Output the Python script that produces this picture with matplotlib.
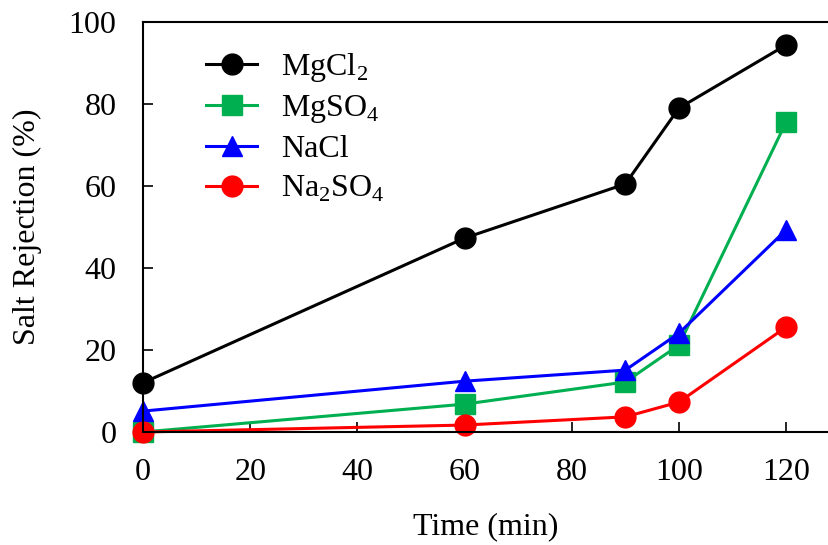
import matplotlib
matplotlib.use("Agg")
import matplotlib.pyplot as plt

# data
time_min = [0, 60, 90, 100, 120]
mgcl2 = [12.0, 47.3, 60.5, 79.0, 94.4]
mgso4 = [0.0, 6.8, 12.2, 21.2, 75.6]
nacl = [5.1, 12.4, 15.1, 24.1, 49.3]
na2so4 = [0.0, 1.7, 3.7, 7.3, 25.6]

plt.rcParams['font.family'] = ['Liberation Serif', 'DejaVu Serif']
plt.rcParams['mathtext.fontset'] = 'custom'
plt.rcParams['mathtext.rm'] = 'Liberation Serif'

fs = 23
fig = plt.figure(figsize=(8.29, 5.45), dpi=100)
ax = fig.add_axes([0.1725, 0.2073, 0.8275, 0.7523])

lw = 2.2
ms = 15
ax.plot(time_min, mgcl2, color='black', marker='o', lw=lw, ms=ms, label=r'MgCl$_\mathrm{2}$')
ax.plot(time_min, mgso4, color='#00B050', marker='s', lw=lw, ms=ms - 1, label=r'MgSO$_\mathrm{4}$')
ax.plot(time_min, nacl, color='#0000FF', marker='^', lw=lw, ms=ms, label='NaCl')
ax.plot(time_min, na2so4, color='#FF0000', marker='o', lw=lw, ms=ms, label=r'Na$_\mathrm{2}$SO$_\mathrm{4}$')

ax.set_xlim(0, 128)
ax.set_ylim(0, 100)
ax.set_xticks([0, 20, 40, 60, 80, 100, 120])
ax.set_yticks([0, 20, 40, 60, 80, 100])
ax.tick_params(direction='in', length=7, width=1.2, labelsize=fs)
ax.tick_params(axis='x', pad=19)
ax.tick_params(axis='y', pad=19)
ax.spines['right'].set_visible(False)
for s in ['left', 'bottom', 'top']:
    ax.spines[s].set_linewidth(1.5)
for line in ax.lines:
    line.set_clip_on(False)

ax.set_xlabel('Time (min)', fontsize=fs, labelpad=18)
ax.set_ylabel('Salt Rejection (%)', fontsize=fs, labelpad=19)

ax.legend(loc='upper left', bbox_to_anchor=(0.05, 1.0), frameon=False, fontsize=fs,
          handlelength=1.6, handletextpad=0.75, labelspacing=0.3)

fig.savefig('out.png', dpi=100)
